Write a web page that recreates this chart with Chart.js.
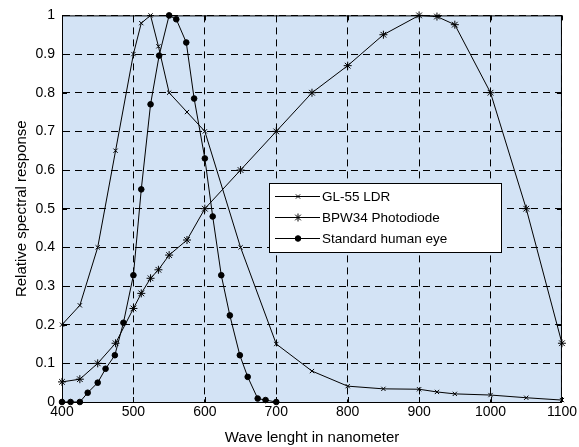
<!DOCTYPE html>
<html>
<head>
<meta charset="utf-8">
<script src="https://cdn.jsdelivr.net/npm/chart.js@4/dist/chart.umd.min.js"></script>
<style>
  html, body { margin: 0; padding: 0; background: #fff; }
  #chart { display: block; }
</style>
</head>
<body>
<canvas id="chart" width="579" height="447"></canvas>
<script>
// Values
const ldrWavelength = [400, 425, 450, 475, 500, 511, 524, 535, 550, 575, 600, 650, 700, 750, 800, 850, 900, 925, 950, 1000, 1050, 1100];
const ldrResponse = [0.2, 0.25, 0.4, 0.65, 0.9, 0.98, 1.0, 0.92, 0.8, 0.75, 0.7, 0.4, 0.15, 0.08, 0.041, 0.034, 0.033, 0.026, 0.021, 0.018, 0.011, 0.005];

const bpwWavelength = [400, 425, 450, 475, 500, 511, 524, 535, 550, 575, 600, 650, 700, 750, 800, 850, 900, 925, 950, 1000, 1050, 1100];
const bpwResponse = [0.052, 0.059, 0.1, 0.152, 0.242, 0.281, 0.32, 0.342, 0.38, 0.419, 0.5, 0.6, 0.7, 0.8, 0.87, 0.95, 1.0, 0.997, 0.976, 0.8, 0.5, 0.152];

const eyeWavelength = [400, 412, 425, 436, 450, 461, 474, 486, 500, 511, 524, 536, 550, 560, 574, 585, 600, 611, 623, 635, 649, 660, 674, 685, 700];
const eyeResponse = [0, 0, 0, 0.024, 0.05, 0.086, 0.121, 0.205, 0.328, 0.55, 0.77, 0.896, 1.0, 0.99, 0.93, 0.785, 0.63, 0.48, 0.328, 0.224, 0.121, 0.065, 0.009, 0.005, 0];

const xTicks = [400, 500, 600, 700, 800, 900, 1000, 1100];
const yTicks = [0, 0.1, 0.2, 0.3, 0.4, 0.5, 0.6, 0.7, 0.8, 0.9, 1];

const seriesNames = ['GL-55 LDR', 'BPW34 Photodiode', 'Standard human eye'];

const toPoints = (xs, ys) => xs.map((x, i) => ({ x: x, y: ys[i] }));

const FONT = '"Liberation Sans", Arial, sans-serif';

// plot background, frame and the little inner ticks
const frame = {
    id: 'frame',
    beforeDraw(chart) {
        const a = chart.chartArea, c = chart.ctx;
        c.save();
        c.fillStyle = '#d3e3f5';
        c.fillRect(a.left, a.top, a.right - a.left, a.bottom - a.top);
        c.restore();
    },
    afterDatasetsDraw(chart) {
        const a = chart.chartArea, c = chart.ctx;
        const sx = chart.scales.x, sy = chart.scales.y;
        c.save();
        c.strokeStyle = '#000';
        c.lineWidth = 1;
        c.strokeRect(a.left + 0.5, a.top + 0.5, a.right - a.left - 1, a.bottom - a.top);
        c.beginPath();
        xTicks.forEach(v => {
            const px = Math.round(sx.getPixelForValue(v)) + 0.5;
            c.moveTo(px, a.bottom); c.lineTo(px, a.bottom - 5);
            c.moveTo(px, a.top); c.lineTo(px, a.top + 5);
        });
        yTicks.forEach(v => {
            const py = Math.round(sy.getPixelForValue(v)) + 0.5;
            c.moveTo(a.left, py); c.lineTo(a.left + 5, py);
            c.moveTo(a.right, py); c.lineTo(a.right - 5, py);
        });
        c.stroke();
        c.restore();
    }
};

// matlab style legend box
const boxLegend = {
    id: 'boxLegend',
    afterDraw(chart) {
        const c = chart.ctx;
        const left = 269, top = 183, w = 232, h = 69;
        c.save();
        c.fillStyle = '#fff';
        c.fillRect(left, top, w, h);
        c.strokeStyle = '#000';
        c.lineWidth = 1;
        c.strokeRect(left + 0.5, top + 0.5, w, h);
        c.font = '13.5px ' + FONT;
        c.textBaseline = 'middle';
        chart.data.datasets.forEach((ds, i) => {
            const y = top + 13.5 + i * 21;
            c.strokeStyle = '#000';
            c.beginPath();
            c.moveTo(left + 6, y);
            c.lineTo(left + 51, y);
            c.stroke();
            c.fillStyle = '#000';
            Chart.helpers.drawPoint(c, {
                pointStyle: ds.pointStyle,
                radius: ds.pointRadius,
                borderWidth: 1,
                rotation: 0
            }, left + 29, y);
            c.fillStyle = '#000';
            c.fillText(ds.label, left + 53, y + 1);
        });
        c.restore();
    }
};

const lineStyle = {
    borderColor: '#000',
    backgroundColor: '#000',
    pointBorderColor: '#000',
    pointBackgroundColor: '#000',
    borderWidth: 1,
    pointBorderWidth: 1,
    tension: 0,
    fill: false
};

const ctx = document.getElementById('chart').getContext('2d');
const chart = new Chart(ctx, {
    type: 'line',
    data: {
        datasets: [
            Object.assign({ label: seriesNames[0], data: toPoints(ldrWavelength, ldrResponse), pointStyle: 'crossRot', pointRadius: 3 }, lineStyle),
            Object.assign({ label: seriesNames[1], data: toPoints(bpwWavelength, bpwResponse), pointStyle: 'star', pointRadius: 4 }, lineStyle),
            Object.assign({ label: seriesNames[2], data: toPoints(eyeWavelength, eyeResponse), pointStyle: 'circle', pointRadius: 2.8 }, lineStyle)
        ]
    },
    options: {
        responsive: false,
        animation: false,
        clip: false,
        layout: { padding: { top: 13, right: 14, left: 13, bottom: 0 } },
        plugins: {
            legend: { display: false },
            tooltip: { enabled: false }
        },
        scales: {
            x: {
                type: 'linear',
                min: 400,
                max: 1100,
                afterBuildTicks: (scale) => { scale.ticks = xTicks.map(v => ({ value: v })); },
                afterFit: (scale) => { scale.height = 45; },
                ticks: {
                    color: '#000', font: { family: FONT, size: 14 }, padding: 2, maxRotation: 0,
                    callback: (v) => String(v)
                },
                grid: { color: '#000', lineWidth: 1, drawTicks: false },
                border: { display: true, color: '#000', dash: [7, 5] },
                title: { display: true, text: 'Wave lenght in nanometer', color: '#000', font: { family: FONT, size: 15 }, padding: { top: 2, bottom: 0 } }
            },
            y: {
                min: 0,
                max: 1,
                afterBuildTicks: (scale) => { scale.ticks = yTicks.map(v => ({ value: v })); },
                afterFit: (scale) => { scale.width = 49; },
                ticks: {
                    color: '#000', font: { family: FONT, size: 14 }, padding: 7,
                    callback: (v) => (v === 0 || v === 1) ? String(v) : v.toFixed(1)
                },
                grid: { color: '#000', lineWidth: 1, drawTicks: false },
                border: { display: true, color: '#000', dash: [7, 5] },
                title: { display: true, text: 'Relative spectral response', color: '#000', font: { family: FONT, size: 15 }, padding: { top: 0, bottom: 2 } }
            }
        }
    },
    plugins: [frame, boxLegend]
});
</script>
</body>
</html>
